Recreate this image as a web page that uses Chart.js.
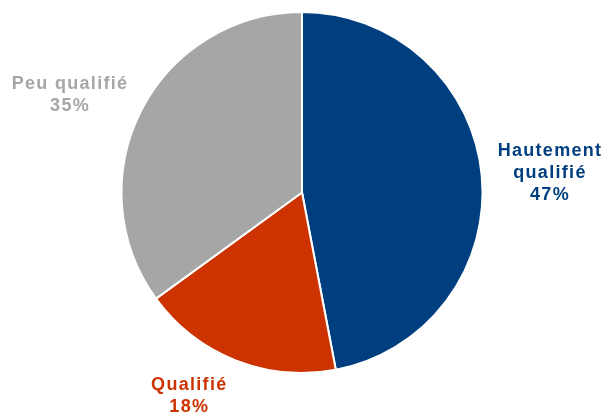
<!DOCTYPE html>
<html>
<head>
<meta charset="utf-8">
<script src="https://cdn.jsdelivr.net/npm/chart.js@4"></script>
<style>
  html, body { margin: 0; padding: 0; background: #fff; }
  #chart { display: block; }
</style>
</head>
<body>
<canvas id="chart" width="605" height="413"></canvas>
<script>
const categories = ["Hautement qualifié", "Qualifié", "Peu qualifié"];
const labelLines = [["Hautement", "qualifié"], ["Qualifié"], ["Peu qualifié"]];
const shares = [47, 18, 35];
const colours = ["#003F7F", "#CC3300", "#A6A6A6"];

// draws the outside labels next to each slice
const sliceLabels = {
    id: "sliceLabels",
    afterDatasetsDraw(chart, args, opts) {
        const ctx = chart.ctx;
        const meta = chart.getDatasetMeta(0);
        ctx.save();
        ctx.font = "bold 18px 'Liberation Sans', Arial, sans-serif";
        ctx.letterSpacing = "1.3px";
        ctx.textAlign = "center";
        ctx.textBaseline = "middle";
        meta.data.forEach((arc, i) => {
            const p = arc.getProps(["x", "y", "startAngle", "endAngle", "outerRadius"], true);
            const mid = (p.startAngle + p.endAngle) / 2;
            const r = p.outerRadius * opts.distance;
            const nudge = opts.nudge[i] || [0, 0];
            const cx = p.x + Math.cos(mid) * r + nudge[0];
            const cy = p.y + Math.sin(mid) * r + nudge[1];
            const lines = labelLines[i].concat([shares[i] + "%"]);
            const top = cy - (lines.length - 1) * opts.lineHeight / 2;
            ctx.fillStyle = colours[i];
            lines.forEach((t, j) => ctx.fillText(t, cx, top + j * opts.lineHeight));
        });
        ctx.restore();
    }
};

new Chart(document.getElementById("chart"), {
    type: "pie",
    data: {
        labels: categories,
        datasets: [{
            data: shares,
            backgroundColor: colours,
            borderColor: "#ffffff",
            borderWidth: 2,
            hoverOffset: 0
        }]
    },
    options: {
        responsive: false,
        animation: false,
        layout: { padding: { top: 11, bottom: 39, left: 0, right: 1 } },
        plugins: {
            legend: { display: false },
            tooltip: { enabled: false },
            sliceLabels: {
                distance: 1.38,
                lineHeight: 22,
                nudge: [[0, 4], [-21, -28], [-10, 16]]
            }
        }
    },
    plugins: [sliceLabels]
});
</script>
</body>
</html>
